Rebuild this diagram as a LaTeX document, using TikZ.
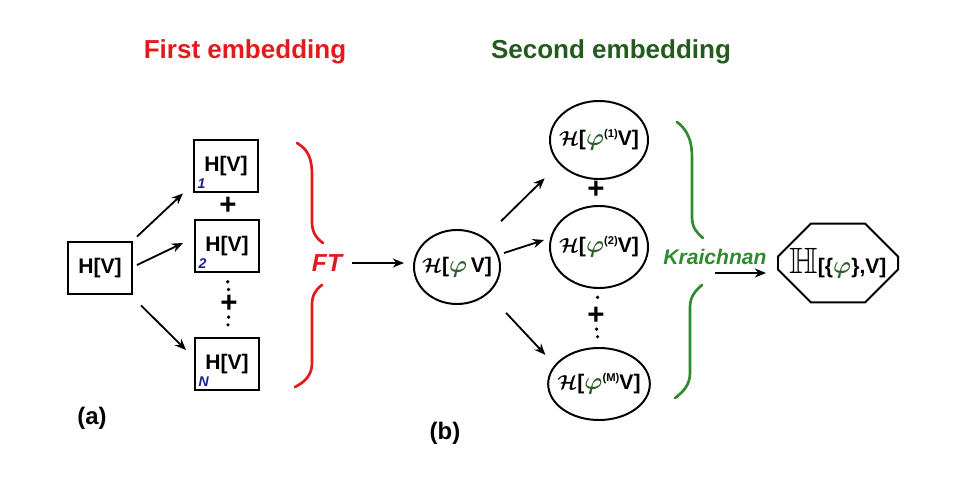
\documentclass[tikz,border=0pt]{standalone}
\usepackage{amsmath}
\usepackage{amssymb}
\usepackage{fontspec}
\setmainfont{Liberation Sans}
\usepackage{tikz}
\usetikzlibrary{arrows.meta, positioning, shapes.geometric, shapes.misc, calc}
\definecolor{firstred}{HTML}{E31A1C}
\definecolor{titlegreen}{HTML}{255A1F}
\definecolor{kgreen}{HTML}{2E8B2E}
\definecolor{phigreen}{HTML}{2F5F2F}
\definecolor{idxblue}{HTML}{1A1AA0}
\newcommand{\calH}{$\boldsymbol{\mathcal{H}}$}
\newcommand{\gphi}{{\fontsize{17}{17}\selectfont$\color{phigreen}\boldsymbol{\varphi}$}}
\newcommand{\phisup}[1]{\gphi\raisebox{6pt}{\fontsize{8}{8}\selectfont #1}}
\tikzset{
    hbox/.style={
        rectangle, draw=black, line width=1.4pt,
        minimum width=1.6cm, minimum height=1.32cm, inner sep=0pt,
        font=\fontsize{15}{15}\selectfont\bfseries
    },
    hell/.style={
        ellipse, draw=black, line width=1.4pt,
        minimum width=2.45cm, minimum height=1.95cm, inner xsep=-4pt, inner ysep=0pt,
        font=\fontsize{15}{15}\selectfont\bfseries
    },
    octbox/.style={
        chamfered rectangle, draw=black, line width=1.4pt,
        chamfered rectangle xsep=0.375cm, chamfered rectangle ysep=0.45cm,
        minimum width=3cm, minimum height=1.97cm, inner xsep=-5pt, inner ysep=0pt,
        font=\fontsize{15}{15}\selectfont\bfseries
    },
    idxlab/.style={
        font=\fontsize{10}{10}\selectfont\bfseries\itshape, text=idxblue,
        anchor=south west, inner xsep=3pt, inner ysep=3.5pt
    },
    plussign/.style={font=\fontsize{21}{21}\selectfont\bfseries, inner sep=0pt},
    dotline/.style={line width=2.6pt, line cap=round, dash pattern=on 0pt off 5.5pt},
    arr/.style={-{Stealth[length=8pt, width=6.5pt]}, line width=1.3pt},
    bracered/.style={line width=1.9pt, line cap=round, color=firstred},
    bracegreen/.style={line width=1.9pt, line cap=round, color=kgreen},
    titlelab/.style={font=\fontsize{18.5}{18.5}\selectfont\bfseries, inner sep=0pt},
    panellab/.style={font=\fontsize{17}{17}\selectfont\bfseries, inner sep=0pt},
}

\begin{document}
\begin{tikzpicture}[x=0.025cm, y=-0.025cm]
    \useasboundingbox (0,0) rectangle (971,491);

    % Titles
    \node[titlelab, text=firstred] (t1) at (245,52) {First embedding};
    \node[titlelab, text=titlegreen] (t2) at (611,52) {Second embedding};

    % First embedding
    \node[hbox] (hv) at (100,268) {H[V]};
    \node[hbox] (h1) at (226,166) {\raisebox{3pt}{H[V]}};
    \node[hbox] (h2) at (227,246) {\raisebox{3pt}{H[V]}};
    \node[hbox] (hN) at (227,364) {\raisebox{3pt}{H[V]}};
    \node[idxlab] at (h1.south west) {1};
    \node[idxlab] at (h2.south west) {2};
    \node[idxlab] at (hN.south west) {N};

    \node[plussign] (pa) at (228,206) {+};
    \node[plussign] (pb) at (229,304) {+};
    \draw[dotline, shorten <=6pt, shorten >=3pt] (h2.south) -- (pb.north);
    \draw[dotline, shorten <=3pt, shorten >=5pt] (pb.south) -- (hN.north);

    \draw[arr] ($(hv.north east)+(4,-4)$) -- ($(h1.south west)+(-10,0)$);
    \draw[arr] ($(hv.east)+(4,-3)$) -- ($(h2.west)+(-11,-3)$);
    \draw[arr] ($(hv.south east)+(8,10)$) -- ($(hN.west)+(-8,-14)$);

    % FT brace
    \node[font=\fontsize{17.5}{17.5}\selectfont\bfseries\itshape, text=firstred, inner sep=0pt] (ft) at (327,263) {FT};
    \draw[bracered] (297,143) .. controls (309,150) and (312,160) .. (312,175) -- (312,222) .. controls (312,232) and (316,238) .. (323,243);
    \draw[bracered] (322,285) .. controls (315,290) and (312,296) .. (312,305) -- (312,363) .. controls (312,375) and (305,382) .. (295,387);

    % Second embedding
    \node[hell, minimum width=2.15cm, minimum height=1.85cm] (e0) at (457,267) {\calH[\gphi\,V]};
    \node[hell] (e1) at (599,140) {\calH[\phisup{(1)}V]};
    \node[hell, minimum height=2.05cm] (e2) at (599,247) {\calH[\phisup{(2)}V]};
    \node[hell, minimum height=1.8cm] (eM) at (599,384) {\calH[\phisup{(M)}V]};

    \draw[arr] ($(ft.east)+(10,0)$) -- ($(ft.east -| e0.west)+(-9,0)$);

    \node[plussign] (pc) at (596,190) {+};
    \node[plussign] (pd) at (596,316) {+};
    \draw[dotline, shorten <=6pt, shorten >=3pt] (e2.south) -- (pd.north);
    \draw[dotline, shorten <=3pt, shorten >=4pt] (pd.south) -- (eM.north);

    \draw[arr] ($(e0.north east)+(13,-19)$) -- ($(e1.south west)+(-19,10)$);
    \draw[arr] ($(e0.east)+(3,-14)$) -- ($(e2.west)+(-5,-7)$);
    \draw[arr] ($(e0.south east)+(18,19)$) -- ($(eM.north west)+(-17,-3)$);

    % Kraichnan brace
    \node[font=\fontsize{15}{15}\selectfont\bfseries\itshape, text=kgreen, inner sep=0pt] (kr) at (715,257) {Kraichnan};
    \draw[bracegreen] (677,122) .. controls (688,130) and (692,142) .. (692,157) -- (692,217) .. controls (692,228) and (697,233) .. (703,238);
    \draw[bracegreen] (702,285) .. controls (695,291) and (690,297) .. (690,307) -- (690,373) .. controls (690,385) and (683,392) .. (675,398);

    \node[octbox] (oct) at (838,263) {{\fontsize{26}{26}\selectfont$\mathbb{H}$}[\{\gphi\},V]};
    \draw[arr] ($(kr.south)+(0,8)$) -- ($(oct.west)+(-11,10)$);

    % Panel labels
    \node[panellab] (pla) at (92,418) {(a)};
    \node[panellab] (plb) at (445,433) {(b)};

\end{tikzpicture}
\end{document}
